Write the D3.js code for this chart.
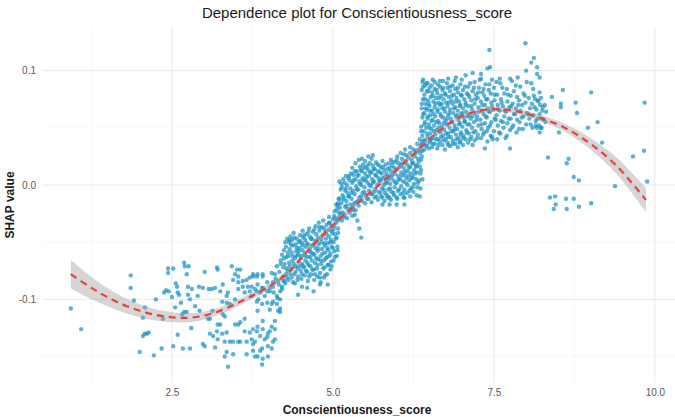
<!DOCTYPE html>
<html>
<head>
<meta charset="utf-8">
<script src="https://cdn.jsdelivr.net/npm/d3@7"></script>
<style>
  html, body { margin: 0; padding: 0; background: #ffffff; }
  svg { display: block; }
</style>
</head>
<body>
<svg id="chart" width="675" height="417"></svg>
<script>
// Conscientiousness_score vs SHAP value, grouped by region of the score range
const sparseLeft = [
  [0.93,-0.108],[1.09,-0.126],[1.86,-0.079],[1.86,-0.090],[1.91,-0.101],[2.08,-0.107],[2.05,-0.116],
  [2.05,-0.132],[2.08,-0.130],[2.11,-0.130],[2.14,-0.129],[2.00,-0.146],[2.22,-0.149],[2.34,-0.143],
  [2.36,-0.117],[2.25,-0.100],[2.41,-0.092],[2.38,-0.094],[2.44,-0.073],[2.44,-0.077],[2.45,-0.093]
];
const lowerBand = [
  [2.52,-0.073],[2.56,-0.086],[2.58,-0.089],[2.59,-0.094],[2.61,-0.096],[2.50,-0.098],[2.64,-0.103],
  [2.55,-0.107],[2.69,-0.111],[2.69,-0.068],[2.70,-0.071],[2.76,-0.071],[2.75,-0.096],[2.75,-0.089],
  [2.73,-0.078],[2.81,-0.091],[2.78,-0.100],[2.90,-0.097],[2.66,-0.113],[2.73,-0.111],[2.86,-0.106],
  [2.93,-0.110],[2.92,-0.089],[2.98,-0.090],[3.01,-0.076],[3.07,-0.091],[3.20,-0.072],[3.21,-0.074],
  [3.12,-0.091],[3.17,-0.090],[3.13,-0.110],[3.25,-0.093],[3.29,-0.087],[3.35,-0.097],[3.28,-0.102],
  [3.29,-0.113],[3.40,-0.104],[3.37,-0.094],[3.35,-0.103],[3.43,-0.071],[3.48,-0.078],[3.45,-0.083],
  [3.51,-0.074],[3.53,-0.080],[3.48,-0.100],[3.53,-0.091],[3.53,-0.085],[3.56,-0.074],[3.60,-0.084],
  [3.66,-0.083],[3.68,-0.089],[3.63,-0.094],[3.60,-0.089],[3.71,-0.081],[3.76,-0.078],[3.76,-0.080],
  [3.82,-0.080],[3.83,-0.078],[3.91,-0.078],[3.91,-0.080],[3.98,-0.085],[3.90,-0.090],[3.82,-0.093],
  [3.74,-0.097],[3.84,-0.100],[3.94,-0.097],[4.02,-0.093],[4.07,-0.089],[4.13,-0.097],[4.05,-0.104],
  [4.15,-0.110],[4.18,-0.093],[4.15,-0.084],[4.10,-0.078],[4.05,-0.077],[3.71,-0.093],[3.74,-0.089],
  [3.79,-0.091],[3.83,-0.087],[3.87,-0.094],[3.91,-0.090],[3.98,-0.093],[4.02,-0.090],[4.07,-0.085],
  [4.21,-0.089],[4.25,-0.084],[4.18,-0.100],[3.82,-0.102],[3.90,-0.104],[3.83,-0.110],[3.98,-0.103],
  [4.07,-0.102],[4.13,-0.104],[4.02,-0.109],[4.18,-0.111],[3.32,-0.115],
  [2.52,-0.141],[2.67,-0.143],[2.59,-0.131],[2.80,-0.125],[2.78,-0.143],[2.98,-0.139],[3.01,-0.141],
  [3.06,-0.117],[3.09,-0.130],[3.14,-0.132],[3.20,-0.128],[3.25,-0.122],[3.28,-0.130],[3.21,-0.135],
  [3.32,-0.137],[3.40,-0.137],[3.17,-0.142],[3.48,-0.122],[3.56,-0.120],[3.53,-0.137],[3.63,-0.128],
  [3.71,-0.129],[3.76,-0.126],[3.66,-0.137],[3.76,-0.139],[3.35,-0.146],[3.37,-0.159],[3.45,-0.148],
  [3.32,-0.150],[3.66,-0.148],[3.76,-0.145],[3.87,-0.145],[3.83,-0.150],[3.91,-0.152],[3.90,-0.157],
  [3.99,-0.150],[3.79,-0.150],[4.07,-0.137],[4.05,-0.143],[4.10,-0.126],[3.91,-0.119],[3.82,-0.128],
  [3.87,-0.132],[4.02,-0.128],[3.98,-0.133],[3.90,-0.143],[3.94,-0.135],[4.10,-0.135],[3.99,-0.141],
  [4.10,-0.119],[3.63,-0.117],[3.53,-0.122],[3.45,-0.137],[3.56,-0.137],[3.79,-0.137],[3.83,-0.124],
  [3.91,-0.126],[3.99,-0.130],[4.05,-0.124],[3.74,-0.135],[3.21,-0.122],[3.35,-0.129],[3.09,-0.117]
];
const riseCluster = [
  [4.08,-0.094],[4.11,-0.082],[4.13,-0.071],[4.14,-0.099],[4.16,-0.087],[4.17,-0.076],[4.19,-0.066],
  [4.21,-0.091],[4.22,-0.080],[4.23,-0.072],[4.21,-0.061],[4.24,-0.057],[4.26,-0.086],[4.27,-0.078],
  [4.25,-0.069],[4.28,-0.063],[4.27,-0.054],[4.29,-0.047],[4.31,-0.083],[4.30,-0.075],[4.32,-0.068],
  [4.31,-0.062],[4.33,-0.056],[4.32,-0.050],[4.34,-0.045],[4.36,-0.081],[4.35,-0.074],[4.37,-0.066],
  [4.36,-0.059],[4.38,-0.053],[4.37,-0.048],[4.39,-0.042],[4.41,-0.086],[4.40,-0.078],[4.42,-0.071],
  [4.41,-0.064],[4.43,-0.058],[4.42,-0.052],[4.44,-0.047],[4.46,-0.080],[4.45,-0.073],[4.47,-0.067],
  [4.46,-0.061],[4.48,-0.055],[4.47,-0.050],[4.49,-0.044],[4.51,-0.082],[4.50,-0.075],[4.52,-0.069],
  [4.51,-0.062],[4.53,-0.057],[4.52,-0.051],[4.54,-0.046],[4.53,-0.040],[4.56,-0.079],[4.55,-0.072],
  [4.57,-0.066],[4.56,-0.060],[4.58,-0.054],[4.57,-0.048],[4.59,-0.043],[4.61,-0.084],[4.60,-0.076],
  [4.62,-0.070],[4.61,-0.063],[4.63,-0.058],[4.62,-0.052],[4.64,-0.045],[4.63,-0.038],[4.66,-0.078],
  [4.65,-0.071],[4.67,-0.066],[4.66,-0.059],[4.68,-0.053],[4.67,-0.047],[4.69,-0.041],[4.71,-0.083],
  [4.70,-0.074],[4.72,-0.068],[4.71,-0.061],[4.73,-0.055],[4.72,-0.049],[4.74,-0.043],[4.73,-0.036],
  [4.76,-0.080],[4.75,-0.073],[4.77,-0.065],[4.76,-0.058],[4.78,-0.052],[4.77,-0.046],[4.79,-0.040],
  [4.78,-0.033],[4.81,-0.085],[4.80,-0.077],[4.82,-0.069],[4.81,-0.062],[4.83,-0.056],[4.82,-0.050],
  [4.84,-0.044],[4.83,-0.037],[4.85,-0.031],[4.86,-0.081],[4.87,-0.072],[4.86,-0.066],[4.88,-0.059],
  [4.87,-0.053],[4.89,-0.047],[4.88,-0.041],[4.90,-0.035],[4.91,-0.078],[4.92,-0.070],[4.91,-0.063],
  [4.93,-0.057],[4.92,-0.051],[4.94,-0.045],[4.93,-0.039],[4.95,-0.033],[4.94,-0.028],[4.96,-0.074],
  [4.97,-0.067],[4.96,-0.060],[4.98,-0.054],[4.97,-0.048],[4.99,-0.042],[4.98,-0.036],[5.00,-0.030],
  [5.01,-0.066],[5.02,-0.058],[5.01,-0.050],[5.03,-0.043],[5.02,-0.036],[5.04,-0.029],[5.03,-0.023],
  [5.05,-0.017],[5.06,-0.062],[5.07,-0.054],[5.06,-0.046],[5.08,-0.038],[5.07,-0.031],[5.09,-0.024],
  [5.08,-0.018],[5.10,-0.012],[4.52,-0.089],[4.60,-0.090],[4.80,-0.087],[4.92,-0.087],[4.46,-0.096],
  [4.33,-0.048],[4.18,-0.108],[4.70,-0.093],
  [4.19,-0.069],[4.23,-0.084],[4.24,-0.064],[4.26,-0.050],[4.28,-0.073],[4.29,-0.081],[4.30,-0.059],
  [4.33,-0.071],[4.34,-0.078],[4.35,-0.052],[4.37,-0.062],[4.38,-0.085],[4.39,-0.069],[4.40,-0.046],
  [4.42,-0.076],[4.43,-0.062],[4.44,-0.055],[4.45,-0.083],[4.47,-0.058],[4.48,-0.071],[4.49,-0.049],
  [4.50,-0.064],[4.52,-0.078],[4.53,-0.053],[4.54,-0.071],[4.55,-0.044],[4.57,-0.062],[4.58,-0.075],
  [4.59,-0.051],[4.60,-0.068],[4.62,-0.041],[4.63,-0.080],[4.64,-0.056],[4.65,-0.063],[4.66,-0.047],
  [4.68,-0.074],[4.69,-0.060],[4.70,-0.052],[4.71,-0.039],[4.72,-0.078],[4.74,-0.064],[4.75,-0.049],
  [4.76,-0.070],[4.77,-0.056],[4.79,-0.037],[4.80,-0.081],[4.81,-0.066],[4.82,-0.047],[4.84,-0.060],
  [4.85,-0.073],[4.86,-0.038],[4.87,-0.051],[4.88,-0.079],[4.89,-0.064],[4.90,-0.043],[4.91,-0.055],
  [4.93,-0.070],[4.94,-0.033],[4.95,-0.062],[4.96,-0.050],[4.97,-0.040],[4.98,-0.071],[5.00,-0.055],
  [5.01,-0.039],[5.02,-0.027],[5.03,-0.063],[5.04,-0.047],[5.05,-0.033],[5.06,-0.021],[5.07,-0.057],
  [5.08,-0.042],[5.09,-0.030]
];
const stepCluster = [
  [5.10,-0.028],[5.11,-0.020],[5.09,-0.012],[5.12,-0.004],[5.10,0.003],
  [5.14,-0.031],[5.15,-0.024],[5.13,-0.016],[5.15,-0.009],[5.14,-0.002],[5.16,0.005],
  [5.18,-0.026],[5.19,-0.019],[5.17,-0.011],[5.19,-0.005],[5.18,0.002],[5.20,0.008],
  [5.22,-0.029],[5.23,-0.021],[5.21,-0.014],[5.23,-0.007],[5.22,0.000],[5.24,0.006],
  [5.26,-0.024],[5.27,-0.017],[5.25,-0.010],[5.27,-0.003],[5.26,0.004],[5.28,0.010],
  [5.30,-0.027],[5.31,-0.019],[5.29,-0.012],[5.31,-0.005],[5.30,0.002],[5.32,0.009],[5.30,0.015],
  [5.35,-0.022],[5.36,-0.015],[5.34,-0.008],[5.36,-0.001],[5.35,0.005],[5.37,0.012],[5.35,0.019],
  [5.40,-0.018],[5.41,-0.011],[5.39,-0.004],[5.41,0.003],[5.40,0.009],[5.42,0.016],[5.40,0.022],
  [5.45,-0.014],[5.46,-0.007],[5.44,0.000],[5.46,0.006],[5.45,0.012],[5.47,0.018],
  [5.50,-0.016],[5.51,-0.009],[5.49,-0.002],[5.51,0.004],[5.50,0.010],[5.52,0.015],[5.50,0.021],
  [5.55,-0.012],[5.56,-0.005],[5.54,0.002],[5.56,0.008],[5.55,0.013],[5.57,0.019],
  [5.60,-0.015],[5.61,-0.008],[5.59,-0.001],[5.61,0.005],[5.60,0.011],[5.62,0.017],[5.60,0.023],
  [5.65,-0.011],[5.66,-0.004],[5.64,0.003],[5.66,0.009],[5.65,0.014],[5.67,0.020],
  [5.70,-0.013],[5.71,-0.006],[5.69,0.000],[5.71,0.006],[5.70,0.012],[5.72,0.017],
  [5.75,-0.010],[5.76,-0.003],[5.74,0.004],[5.76,0.010],[5.75,0.015],[5.77,0.021],
  [5.80,-0.014],[5.81,-0.007],[5.79,0.000],[5.81,0.007],[5.80,0.013],[5.82,0.018],
  [5.85,-0.011],[5.86,-0.004],[5.84,0.002],[5.86,0.008],[5.85,0.014],[5.87,0.019],
  [5.90,-0.013],[5.91,-0.006],[5.89,0.001],[5.91,0.007],[5.90,0.012],[5.92,0.017],[5.90,0.022],
  [5.95,-0.009],[5.96,-0.002],[5.94,0.004],[5.96,0.010],[5.95,0.015],[5.97,0.020],
  [6.00,-0.012],[6.01,-0.005],[5.99,0.002],[6.01,0.008],[6.00,0.014],[6.02,0.019],[6.00,0.025],
  [6.05,-0.008],[6.06,-0.001],[6.04,0.005],[6.06,0.011],[6.05,0.017],[6.07,0.023],
  [6.10,-0.011],[6.11,-0.004],[6.09,0.003],[6.11,0.009],[6.10,0.015],[6.12,0.021],[6.10,0.027],
  [6.15,-0.007],[6.16,0.000],[6.14,0.006],[6.16,0.012],[6.15,0.018],[6.17,0.024],
  [6.20,-0.010],[6.21,-0.003],[6.19,0.004],[6.21,0.010],[6.20,0.016],[6.22,0.022],[6.20,0.028],
  [6.25,-0.006],[6.26,0.001],[6.24,0.007],[6.26,0.013],[6.25,0.019],[6.27,0.025],[6.25,0.031],
  [6.30,-0.009],[6.31,-0.002],[6.29,0.005],[6.31,0.011],[6.30,0.017],[6.32,0.023],[6.30,0.030],[6.31,0.036],
  [6.35,-0.010],[6.36,-0.003],[6.34,0.004],[6.36,0.010],[6.35,0.016],[6.37,0.022],[6.35,0.028],[6.36,0.034],[6.35,0.040],
  [5.77,-0.011],[5.88,-0.011],[5.99,-0.011],[6.11,-0.011],[5.77,-0.017],[5.88,-0.017],[5.99,-0.017],[6.11,-0.017],
  [5.31,-0.022],[5.34,-0.026],[5.38,-0.031],[5.41,-0.038],[5.44,-0.046],
  [5.45,0.023],[5.55,0.025],[5.62,0.026],[6.05,0.028],[6.12,0.031],[6.20,0.033],
  [5.08,-0.016],[5.12,-0.025],[5.13,0.001],[5.16,-0.013],[5.17,-0.028],[5.20,-0.003],[5.21,-0.018],
  [5.24,-0.010],[5.25,0.008],[5.28,-0.021],[5.29,-0.007],[5.32,0.004],[5.33,-0.016],[5.34,0.012],
  [5.37,-0.004],[5.38,0.008],[5.39,-0.014],[5.42,0.001],[5.43,0.013],[5.44,-0.010],[5.47,0.004],
  [5.48,0.015],[5.49,-0.006],[5.52,0.007],[5.53,-0.012],[5.54,0.017],[5.57,0.000],[5.58,0.011],
  [5.59,-0.008],[5.62,0.002],[5.63,0.014],[5.64,-0.006],[5.67,0.008],[5.68,-0.010],[5.69,0.018],
  [5.72,0.003],[5.73,0.011],[5.74,-0.007],[5.77,0.006],[5.78,0.016],[5.79,-0.004],[5.82,0.002],
  [5.83,0.010],[5.84,-0.009],[5.87,0.005],[5.88,0.015],[5.89,-0.003],[5.92,0.009],[5.93,0.020],
  [5.94,-0.007],[5.97,0.002],[5.98,0.013],[5.99,0.022],[6.02,0.005],[6.03,-0.004],[6.04,0.016],
  [6.07,0.008],[6.08,0.019],[6.09,-0.007],[6.12,0.012],[6.13,0.002],[6.14,0.026],[6.17,0.008],
  [6.18,0.015],[6.19,-0.005],[6.22,0.006],[6.23,0.019],[6.24,-0.002],[6.27,0.010],[6.28,0.028],
  [6.29,0.016],[6.32,0.002],[6.33,0.020],[6.34,0.031],[6.37,0.013],[6.38,0.025],[6.38,0.037],[6.39,0.005]
];
const plateauCluster = [
  [6.38,0.035],[6.39,0.043],[6.37,0.051],[6.39,0.059],[6.38,0.067],[6.40,0.075],[6.38,0.083],[6.39,0.090],
  [6.42,0.031],[6.43,0.039],[6.41,0.047],[6.43,0.055],[6.42,0.063],[6.44,0.071],[6.42,0.079],[6.43,0.087],
  [6.46,0.034],[6.47,0.042],[6.45,0.050],[6.47,0.058],[6.46,0.066],[6.48,0.074],[6.46,0.082],[6.47,0.089],
  [6.50,0.037],[6.51,0.045],[6.49,0.053],[6.51,0.061],[6.50,0.069],[6.52,0.077],[6.50,0.085],
  [6.54,0.033],[6.55,0.041],[6.53,0.049],[6.55,0.057],[6.54,0.065],[6.56,0.073],[6.54,0.081],[6.55,0.092],
  [6.58,0.036],[6.59,0.044],[6.57,0.052],[6.59,0.060],[6.58,0.068],[6.60,0.076],[6.58,0.084],
  [6.62,0.032],[6.63,0.040],[6.61,0.048],[6.63,0.056],[6.62,0.064],[6.64,0.072],[6.62,0.080],[6.63,0.088],
  [6.66,0.038],[6.67,0.046],[6.65,0.054],[6.67,0.062],[6.66,0.070],[6.68,0.078],[6.66,0.086],
  [6.70,0.035],[6.71,0.043],[6.69,0.051],[6.71,0.059],[6.70,0.067],[6.72,0.075],[6.70,0.083],[6.71,0.091],
  [6.74,0.031],[6.75,0.040],[6.73,0.048],[6.75,0.056],[6.74,0.064],[6.76,0.072],[6.74,0.080],
  [6.78,0.037],[6.79,0.045],[6.77,0.053],[6.79,0.061],[6.78,0.069],[6.80,0.077],[6.78,0.085],[6.79,0.093],
  [6.82,0.034],[6.83,0.042],[6.81,0.050],[6.83,0.058],[6.82,0.066],[6.84,0.074],[6.82,0.082],
  [6.86,0.039],[6.87,0.047],[6.85,0.055],[6.87,0.063],[6.86,0.071],[6.88,0.079],[6.86,0.087],
  [6.90,0.036],[6.91,0.044],[6.89,0.052],[6.91,0.060],[6.90,0.068],[6.92,0.076],[6.90,0.084],[6.91,0.094],
  [6.94,0.033],[6.95,0.041],[6.93,0.049],[6.95,0.057],[6.94,0.065],[6.96,0.073],[6.94,0.081],
  [6.98,0.038],[6.99,0.046],[6.97,0.054],[6.99,0.062],[6.98,0.070],[7.00,0.078],[6.98,0.088],
  [7.02,0.035],[7.03,0.043],[7.01,0.051],[7.03,0.059],[7.02,0.067],[7.04,0.075],[7.02,0.083],
  [7.06,0.040],[7.07,0.048],[7.05,0.056],[7.07,0.064],[7.06,0.072],[7.08,0.080],[7.06,0.096],
  [7.10,0.037],[7.11,0.045],[7.09,0.053],[7.11,0.061],[7.10,0.069],[7.12,0.077],[7.10,0.086],
  [7.15,0.042],[7.16,0.050],[7.14,0.058],[7.16,0.066],[7.15,0.074],[7.17,0.082],
  [7.20,0.039],[7.21,0.047],[7.19,0.055],[7.21,0.063],[7.20,0.071],[7.22,0.079],[7.20,0.090],
  [7.25,0.044],[7.26,0.052],[7.24,0.060],[7.26,0.068],[7.25,0.076],[7.27,0.085],
  [7.30,0.041],[7.31,0.049],[7.29,0.057],[7.31,0.065],[7.30,0.073],[7.32,0.081],[7.30,0.097],
  [7.35,0.046],[7.36,0.054],[7.34,0.062],[7.36,0.070],[7.35,0.078],[7.37,0.088],
  [7.40,0.038],[7.41,0.050],[7.39,0.059],[7.41,0.067],[7.40,0.075],[7.42,0.083],
  [7.45,0.043],[7.46,0.055],[7.44,0.064],[7.46,0.072],[7.45,0.080],[7.47,0.092],
  [7.50,0.047],[7.51,0.058],[7.49,0.066],[7.51,0.074],[7.50,0.085],
  [7.55,0.040],[7.56,0.052],[7.54,0.061],[7.56,0.070],[7.55,0.079],
  [7.60,0.045],[7.61,0.056],[7.59,0.065],[7.61,0.075],[7.60,0.089],
  [7.65,0.050],[7.66,0.060],[7.64,0.069],[7.66,0.080],
  [7.70,0.043],[7.71,0.054],[7.69,0.064],[7.71,0.073],[7.70,0.084],
  [7.75,0.048],[7.76,0.058],[7.74,0.068],[7.76,0.078],[7.75,0.093],
  [7.80,0.052],[7.81,0.062],[7.79,0.071],[7.81,0.082],
  [7.85,0.046],[7.86,0.057],[7.84,0.067],[7.86,0.077],
  [7.90,0.055],[7.91,0.065],[7.89,0.074],[7.91,0.086],
  [7.95,0.049],[7.96,0.060],[7.94,0.070],[7.96,0.080],
  [8.00,0.053],[8.01,0.063],[7.99,0.072],[8.01,0.090],
  [8.05,0.058],[8.06,0.067],[8.04,0.076],
  [8.10,0.050],[8.11,0.061],[8.09,0.071],[8.11,0.084],
  [8.15,0.056],[8.16,0.066],[8.14,0.075],
  [8.20,0.052],[8.21,0.062],[8.19,0.073],[8.21,0.081],
  [8.25,0.058],[8.26,0.068],[8.30,0.055],[8.31,0.064],[8.29,0.070],
  [8.12,0.078],[8.18,0.074],[8.22,0.070],[8.25,0.065],[8.27,0.057],[8.15,0.052],[8.23,0.050],
  [8.17,0.050],[8.24,0.050],[8.21,0.046],
  [7.43,0.118],[7.99,0.124],[8.12,0.111],[8.08,0.107],[8.00,0.100],[7.87,0.094],[7.78,0.091],
  [7.44,0.103],[7.40,0.102],[7.17,0.098],[6.40,0.092],[7.59,0.093],[7.30,0.093],
  [7.17,0.035],[7.36,0.032],[7.75,0.032],[7.47,0.042],[6.97,0.037],[6.79,0.042],[6.51,0.039],
  [6.37,0.047],[6.38,0.071],[6.39,0.030],[6.40,0.062],[6.40,0.086],[6.41,0.039],[6.42,0.053],
  [6.43,0.075],[6.44,0.067],[6.44,0.035],[6.45,0.089],[6.46,0.045],[6.47,0.060],[6.48,0.082],
  [6.49,0.032],[6.49,0.071],[6.50,0.050],[6.51,0.065],[6.52,0.040],[6.53,0.087],[6.53,0.056],
  [6.55,0.078],[6.55,0.036],[6.56,0.062],[6.57,0.047],[6.58,0.090],[6.59,0.071],[6.60,0.040],
  [6.60,0.055],[6.61,0.083],[6.63,0.066],[6.64,0.035],[6.64,0.050],[6.65,0.076],[6.66,0.091],
  [6.68,0.042],[6.68,0.060],[6.69,0.071],[6.71,0.085],[6.72,0.039],[6.72,0.054],[6.73,0.067],
  [6.75,0.079],[6.76,0.045],[6.77,0.089],[6.77,0.058],[6.79,0.035],[6.80,0.072],[6.81,0.063],
  [6.82,0.086],[6.84,0.047],[6.84,0.055],[6.85,0.078],[6.86,0.036],[6.88,0.067],[6.89,0.091],
  [6.89,0.049],[6.91,0.073],[6.92,0.040],[6.93,0.061],[6.94,0.085],[6.96,0.053],[6.97,0.069],
  [6.98,0.044],[6.99,0.079],[7.00,0.092],[7.01,0.063],[7.02,0.041],[7.04,0.055],[7.05,0.086],
  [7.06,0.070],[7.08,0.046],[7.09,0.060],[7.10,0.079],[7.12,0.053],[7.13,0.089],[7.13,0.040],
  [7.15,0.069],[7.17,0.060],[7.18,0.046],[7.19,0.085],[7.21,0.075],[7.23,0.057],[7.24,0.041],
  [7.26,0.081],[7.27,0.064],[7.28,0.092],[7.31,0.053],[7.32,0.070],[7.33,0.044],[7.34,0.084],
  [7.37,0.060],[7.38,0.075],[7.39,0.047],[7.42,0.064],[7.43,0.088],[7.44,0.052],[7.47,0.069],
  [7.48,0.040],[7.51,0.079],[7.53,0.057],[7.54,0.090],[7.57,0.066],[7.58,0.046],[7.62,0.072],
  [7.63,0.085],[7.64,0.055],[7.67,0.065],[7.68,0.041],[7.72,0.079],[7.73,0.058],[7.77,0.069],
  [7.78,0.050],[7.83,0.062],[7.84,0.087],[7.88,0.070],[7.89,0.049],[7.93,0.059],[7.98,0.078],
  [8.03,0.062],[8.07,0.053],[8.08,0.089],[8.13,0.068],[8.18,0.058],[8.23,0.076]
];
const rightTail = [
  [8.17,0.103],[8.17,0.097],[8.21,0.094],[8.57,0.083],[9.01,0.081],[9.84,0.072],[8.40,0.077],
  [8.54,0.071],[8.54,0.068],[8.77,0.072],[8.79,0.063],[9.11,0.055],[8.96,0.050],[8.51,0.046],
  [9.18,0.037],[8.34,0.024],[8.66,0.023],[8.63,0.019],[9.66,0.025],[9.83,0.030],[8.74,0.007],
  [8.82,0.004],[9.88,0.003],[9.38,-0.001],[8.37,-0.011],[8.45,-0.010],[8.62,-0.012],[8.74,-0.012],
  [9.01,-0.016],[8.82,-0.019],[8.46,-0.017],[8.43,-0.021],[8.63,-0.021]
];

// Loess fit and its standard-error half-width
const smoothX  = [0.93, 1.25, 1.60, 2.00, 2.40, 2.80, 3.20, 3.60, 4.00, 4.30, 4.60, 5.00, 5.40, 5.80, 6.20, 6.60, 7.00, 7.40, 7.80, 8.20, 8.60, 9.00, 9.40, 9.86];
const smoothY  = [-0.078,-0.090,-0.101,-0.110,-0.115,-0.116,-0.111,-0.101,-0.089,-0.077,-0.058,-0.035,-0.015,0.004,0.024,0.045,0.060,0.066,0.065,0.059,0.050,0.036,0.017,-0.013];
const smoothSE = [0.0125,0.0098,0.0075,0.0058,0.0045,0.0038,0.0032,0.0028,0.0025,0.0024,0.0023,0.0022,0.0022,0.0022,0.0022,0.0022,0.0022,0.0022,0.0023,0.0026,0.0035,0.0050,0.0072,0.0105];

const xTicks = [2.5, 5.0, 7.5, 10.0];
const xMinorTicks = [1.25, 3.75, 6.25, 8.75];
const yTicks = [-0.1, 0.0, 0.1];
const yMinorTicks = [-0.15, -0.05, 0.05];

const points = [].concat(sparseLeft, lowerBand, riseCluster, stepCluster, plateauCluster, rightTail);

const svg = d3.select("#chart");
const panel = { left: 42, right: 676, top: 27, bottom: 383 };
const FONT = "'Liberation Sans', Arial, sans-serif";

// ggplot-style 5% expansion of the data range
function expand(ext) { const d = (ext[1] - ext[0]) * 0.05; return [ext[0] - d, ext[1] + d]; }
const x = d3.scaleLinear().domain(expand(d3.extent(points, d => d[0]))).range([panel.left, panel.right]);
const y = d3.scaleLinear().domain(expand(d3.extent(points, d => d[1]))).range([panel.bottom, panel.top]);

const fmt = v => d3.format(".1f")(v).replace("\u2212", "-");

// Grid: minor then major lines
const grid = svg.append("g");
grid.selectAll(".xminor").data(xMinorTicks).join("line")
  .attr("x1", d => x(d)).attr("x2", d => x(d)).attr("y1", panel.top).attr("y2", panel.bottom)
  .attr("stroke", "#f2f2f2").attr("stroke-width", 0.6);
grid.selectAll(".yminor").data(yMinorTicks).join("line")
  .attr("y1", d => y(d)).attr("y2", d => y(d)).attr("x1", panel.left).attr("x2", panel.right)
  .attr("stroke", "#f2f2f2").attr("stroke-width", 0.6);
grid.selectAll(".xmajor").data(xTicks).join("line")
  .attr("x1", d => x(d)).attr("x2", d => x(d)).attr("y1", panel.top).attr("y2", panel.bottom)
  .attr("stroke", "#e9e9e9").attr("stroke-width", 1);
grid.selectAll(".ymajor").data(yTicks).join("line")
  .attr("y1", d => y(d)).attr("y2", d => y(d)).attr("x1", panel.left).attr("x2", panel.right)
  .attr("stroke", "#e9e9e9").attr("stroke-width", 1);

// Tick labels via d3 axes with the domain line and tick marks hidden
const xAxis = svg.append("g").attr("transform", `translate(0,${panel.bottom + 3})`)
  .call(d3.axisBottom(x).tickValues(xTicks).tickFormat(fmt).tickSize(0));
const yAxis = svg.append("g").attr("transform", `translate(${panel.left - 3},0)`)
  .call(d3.axisLeft(y).tickValues(yTicks).tickFormat(fmt).tickSize(0));
[xAxis, yAxis].forEach(a => {
  a.select(".domain").remove();
  a.selectAll("text").attr("fill", "#5a5a5a").style("font-family", FONT).style("font-size", "10px");
});

// Scatter
svg.append("g").selectAll("circle").data(points).join("circle")
  .attr("cx", d => x(d[0])).attr("cy", d => y(d[1])).attr("r", 2.2)
  .attr("fill", "#1591c5").attr("fill-opacity", 0.7);

// Confidence band and fitted line
const fit = smoothX.map((v, i) => ({ x: v, y: smoothY[i], se: smoothSE[i] }));
svg.append("path").datum(fit)
  .attr("d", d3.area().curve(d3.curveCatmullRom).x(d => x(d.x)).y0(d => y(d.y - d.se)).y1(d => y(d.y + d.se)))
  .attr("fill", "#999999").attr("fill-opacity", 0.4);
svg.append("path").datum(fit)
  .attr("d", d3.line().curve(d3.curveCatmullRom).x(d => x(d.x)).y(d => y(d.y)))
  .attr("fill", "none").attr("stroke", "#e8413f").attr("stroke-width", 2.2).attr("stroke-dasharray", "7,5");

// Titles
const cx = (panel.left + panel.right) / 2 - 2;
svg.append("text").attr("x", cx).attr("y", 18).attr("text-anchor", "middle")
  .style("font-family", FONT).style("font-size", "15px").attr("fill", "#1a1a1a")
  .text("Dependence plot for Conscientiousness_score");
svg.append("text").attr("x", cx).attr("y", 414).attr("text-anchor", "middle")
  .style("font-family", FONT).style("font-size", "12px").style("font-weight", "bold").attr("fill", "#1a1a1a")
  .text("Conscientiousness_score");
svg.append("text").attr("transform", `translate(14,${(panel.top + panel.bottom) / 2}) rotate(-90)`)
  .attr("text-anchor", "middle")
  .style("font-family", FONT).style("font-size", "12px").style("font-weight", "bold").attr("fill", "#1a1a1a")
  .text("SHAP value");
</script>
</body>
</html>
